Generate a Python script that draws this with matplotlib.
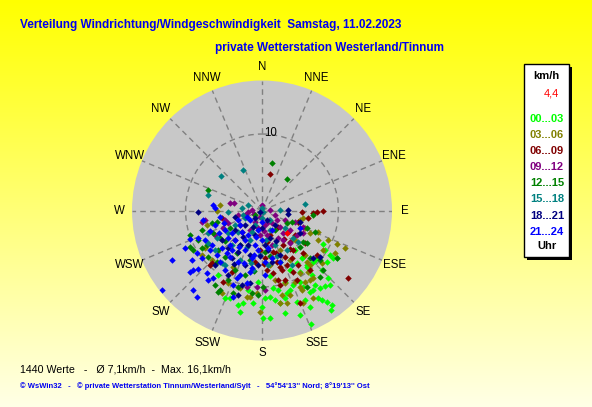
import numpy as np
import matplotlib
matplotlib.use("Agg")
import matplotlib.pyplot as plt
from matplotlib.patches import Rectangle
from matplotlib.colors import LinearSegmentedColormap

plt.rcParams['font.family'] = ['Liberation Sans', 'DejaVu Sans']

# Windvektoren je 3-Stunden-Block als (Ost, Nord) in km/h, aus dem Bild geschaetzt
wind_00_03 = [(1.0, -11.3), (1.4, -10.1), (2.1, -10.4), (3.7, -10.4), (4.1, -9.7), (5.0, -9.3),
              (5.4, -10.0), (6.3, -10.7), (6.9, -9.7), (7.6, -10.1), (8.2, -9.9), (8.9, -9.7),
              (7.8, -11.7), (8.5, -12.0), (9.2, -12.4), (6.3, -12.6), (5.0, -13.7), (3.0, -13.4),
              (4.6, -12.0), (6.4, -14.8), (0.1, -14.1), (1.0, -14.1), (0.0, -12.6), (3.0, -11.4),
              (-5.8, -8.4), (-4.8, -11.4), (-4.2, -11.4), (-3.1, -12.4), (-2.5, -12.1), (-1.2, -12.1),
              (-2.9, -13.3), (0.4, -11.4), (8.0, -4.4), (8.2, -5.2), (8.9, -5.8), (8.5, -6.7),
              (7.3, -6.1), (6.7, -6.7), (5.2, -6.2), (5.9, -7.1), (9.3, -6.2), (9.8, -6.2),
              (8.6, -8.8), (9.0, -13.0), (2.4, -12.1), (3.3, -10.8), (6.7, -10.4), (5.9, -7.4),
              (4.6, -6.9), (5.4, -6.1), (6.9, -6.5), (2.4, -6.7), (3.7, -7.8), (1.0, -8.6),
              (-0.5, -9.3), (5.0, -8.0), (3.0, -9.3), (4.3, -5.2), (6.5, -8.4), (7.8, -7.8),
              (-1.8, -10.4), (1.7, -11.7), (5.6, -11.7), (7.3, -11.4)]
wind_03_06 = [(5.6, -2.3), (6.3, -2.9), (7.3, -3.9), (9.8, -4.4), (10.8, -4.9), (9.5, -5.6),
              (5.6, -5.8), (5.9, -6.7), (6.3, -7.1), (5.0, -1.2), (5.4, -1.0), (7.8, -6.9),
              (8.0, -5.2), (6.0, -8.0), (5.0, -8.2), (5.6, -9.3), (5.0, -10.0), (6.3, -9.1),
              (3.0, -9.5), (4.3, -9.3), (2.4, -12.1), (5.4, -12.1), (-0.3, -13.3), (-2.9, -10.1),
              (-2.0, -11.3), (-0.7, -10.8), (-4.4, -9.5), (-5.5, 0.7), (-7.2, -1.9), (-7.8, -5.8),
              (-3.8, -7.4), (3.3, -12.1), (6.7, -11.4), (5.2, -10.4), (2.6, -11.0), (6.7, -8.8),
              (-1.6, -11.3), (-5.2, -10.8), (-6.5, -6.5), (-7.5, -4.9), (3.7, -6.5), (2.4, -5.2),
              (4.3, -3.9), (1.0, -7.1), (7.3, -2.8), (8.6, -3.9), (3.7, -11.0), (1.7, -9.1),
              (-5.9, 0.0)]
wind_06_09 = [(5.2, -0.2), (6.7, -0.3), (7.2, -0.2), (8.0, -0.1), (6.0, -1.0), (3.4, -2.8),
              (3.7, -4.1), (2.7, -4.5), (4.1, -5.2), (3.0, -6.1), (3.9, -6.2), (7.2, -5.8),
              (5.4, -5.6), (1.4, -5.4), (2.0, -6.7), (2.4, -7.4), (3.3, -7.1), (4.7, -7.1),
              (0.7, -4.1), (1.0, -3.2), (2.1, -2.2), (11.2, -8.8), (5.0, -12.1), (2.4, -9.7),
              (3.0, -9.1), (4.1, -8.0), (1.4, -8.2), (0.7, -7.8), (6.3, -7.8), (1.0, 4.8),
              (4.6, -9.1), (-6.8, -7.1), (-5.1, -9.3), (-3.9, -8.0), (-5.2, -1.0), (-4.8, -1.5),
              (-6.5, -6.9), (2.6, -7.8), (2.1, -9.1), (-0.3, -5.2), (0.4, -6.2), (4.3, -3.2),
              (5.6, -4.2), (-0.9, -6.7), (4.7, -1.5), (1.8, -5.5), (3.6, -5.0), (0.2, -7.0),
              (2.9, -3.7)]
wind_09_12 = [(-4.2, 1.0), (-3.7, 1.0), (-7.8, -1.5), (-7.5, -1.2), (-4.8, -1.2), (-4.4, -1.6),
              (-1.3, 0.1), (-0.3, -0.8), (0.8, -1.5), (0.4, -1.9), (1.3, -1.6), (2.4, -2.2),
              (3.7, -2.5), (4.6, -3.2), (5.4, -2.9), (2.7, -3.9), (0.7, -3.2), (3.7, -4.2),
              (-5.1, -2.3), (2.1, -3.6), (5.4, -2.2), (0.4, -10.4), (-2.0, -10.0), (-0.7, -10.0),
              (-2.2, -0.6), (-0.9, -1.5), (-2.9, -1.9), (1.7, -0.6), (3.0, -1.2), (-1.6, -2.5),
              (-0.3, -3.2), (1.3, -4.5), (-3.5, -3.9), (-6.1, -3.2), (0.0, 0.7), (1.0, 0.1),
              (-3.1, -0.6), (4.3, -1.5), (-0.5, -2.3), (-1.8, -0.2), (-1.0, -0.5), (0.3, -2.7),
              (1.9, -1.3), (-2.6, -2.8), (2.8, -3.0)]
wind_12_15 = [(1.3, 6.2), (3.3, 4.1), (-7.1, 2.7), (6.7, -0.6), (6.9, -2.8), (9.8, -6.2),
              (-9.4, -3.2), (-9.0, -5.2), (-6.1, -9.7), (-5.8, -10.7), (-3.1, -10.0), (-1.3, -10.8),
              (0.1, -10.0), (3.3, -1.6), (7.6, -6.5), (5.0, -4.8), (5.9, -4.2), (-9.4, -4.8),
              (-5.9, -1.5), (-6.5, -1.6), (-6.4, -2.9), (-5.5, -3.6), (-7.2, -4.5), (-7.8, -4.9),
              (-7.1, -6.1), (-5.9, -6.7), (-4.8, -6.1), (-4.2, -2.3), (-5.8, -5.2), (-5.5, -10.4),
              (3.9, -1.5), (5.4, -4.1), (0.4, -5.4), (-7.8, -2.5), (5.9, -2.3), (7.6, -8.7),
              (5.9, -10.0), (8.0, -7.8), (-3.8, -10.8), (-0.5, -11.0), (6.3, -6.2), (-2.9, -4.5),
              (-1.6, -6.5), (-3.5, -7.8), (-2.2, -8.4), (1.7, -2.5), (-0.9, -0.6), (-4.4, -9.1),
              (-8.4, -3.9), (-3.3, -5.6), (-4.9, -4.0), (-1.0, -7.9), (1.0, -6.0)]
wind_15_18 = [(-5.4, 4.5), (-2.5, 5.3), (5.6, 0.8), (-7.1, 2.0), (-2.6, 0.3), (0.0, 0.3),
              (0.1, -0.2), (-7.1, -2.9), (-7.1, -4.2), (-2.2, -1.0), (-3.1, -2.8), (-5.9, -3.6),
              (-5.2, -6.9), (-4.8, -7.1), (-2.5, -0.6), (4.7, -4.1), (3.3, -5.2), (3.9, -7.1),
              (4.1, -3.6), (-0.9, -1.9), (1.0, -1.2), (-1.6, -3.9), (-3.9, -4.5), (1.7, -4.5),
              (-0.3, -5.8), (-2.9, -6.5), (2.4, 0.1), (-4.4, -0.2), (-1.2, -7.8), (0.8, -7.1),
              (-6.1, -5.2), (3.0, -2.3), (-1.8, 0.7), (0.0, -1.0), (-1.3, -2.8), (1.0, -2.5),
              (-3.5, -1.9), (-2.0, -4.8), (0.5, -3.8), (-4.5, -2.9), (2.0, -6.0), (-1.5, -6.9)]
wind_18_21 = [(-8.4, -0.2), (3.4, 0.1), (3.4, -0.5), (5.0, -1.5), (5.0, -2.9), (7.6, -6.1),
              (6.7, -6.2), (0.8, -5.2), (-2.6, -9.7), (-1.6, -9.5), (-3.5, -0.8), (-2.2, -1.9),
              (-0.9, -3.2), (0.0, -2.3), (-2.9, -4.5), (-1.6, -5.8), (-3.9, -6.2), (1.0, -3.6),
              (-0.5, -7.1), (-5.2, -3.9), (-4.4, -8.4), (2.4, -5.8), (-2.2, -7.1), (1.7, -1.9),
              (-3.5, -2.5), (-0.3, -0.2), (-6.1, -7.1), (-3.1, -11.0), (-1.8, -4.5), (-3.1, -5.4),
              (0.4, -4.5), (-0.9, -1.0), (-4.4, -4.9), (1.3, -6.7), (-2.5, -3.5), (-1.2, -2.2),
              (0.6, -1.2), (-3.6, -7.0), (-0.2, -6.0), (1.8, -4.0)]
wind_21_24 = [(-13.1, -10.4), (-11.8, -6.5), (-10.1, -4.9), (-9.2, -6.5), (-9.0, -7.8), (-8.5, -11.3),
              (-9.0, -10.4), (-7.2, -8.2), (-7.1, -9.1), (-9.4, -8.0), (-8.4, -7.6), (-6.4, -8.8),
              (-8.4, -3.6), (-7.7, -1.2), (-6.1, 0.3), (-5.5, -0.8), (-7.5, -3.9), (-8.5, -5.6),
              (-6.5, -4.5), (-5.9, -5.8), (-7.8, -6.2), (-6.8, -5.2), (-9.4, -3.7), (-3.8, -11.3),
              (-5.2, -4.9), (-4.2, -6.1), (-3.3, -8.8), (-2.0, -9.5), (-1.3, -7.5), (-6.4, 0.7),
              (-4.8, -2.5), (-3.5, -3.9), (-2.2, -5.2), (-2.9, -1.9), (-0.9, -4.5), (0.0, -3.9),
              (-1.6, -1.2), (-3.1, -6.7), (-4.8, -7.8), (0.4, -6.7), (-0.5, -2.5), (-4.2, -4.5),
              (-1.8, -3.2), (1.3, -2.5), (5.0, -2.3), (2.4, -6.7), (0.4, -8.4), (-6.1, -1.9),
              (-2.9, -8.4), (-2.2, -3.9), (-1.3, -6.2), (-3.9, -5.2), (-0.5, -5.2), (-2.6, -2.8),
              (0.8, -4.9), (-4.4, -3.6), (-1.6, -8.0), (-3.1, -1.2), (0.0, -1.5), (-5.5, -6.7),
              (-3.8, -9.7), (1.3, -6.2), (-3.0, -4.8), (-4.6, -5.5), (-5.6, -3.0), (-2.4, -6.9),
              (-0.8, -3.5), (-3.9, -2.9), (-1.0, -5.8), (-5.0, -1.6), (-6.8, -2.7), (-2.0, -0.8)]

gruppen = [wind_00_03, wind_03_06, wind_06_09, wind_09_12,
           wind_12_15, wind_15_18, wind_18_21, wind_21_24]
zeitraeume = ["00...03", "03...06", "06...09", "09...12",
              "12...15", "15...18", "18...21", "21...24"]
farben = ["#00ff00", "#808000", "#800000", "#800080",
          "#008000", "#008080", "#000080", "#0000ff"]
richtungen = ["N", "NNE", "NE", "ENE", "E", "ESE", "SE", "SSE",
              "S", "SSW", "SW", "WSW", "W", "WNW", "NW", "NNW"]

aktuell_richtung = 133   # Grad
aktuell_speed = 4.4      # km/h
r_max = 17

W, H = 592, 407


def fpos(x, y):
    # Pixelposition -> Figurenkoordinaten
    return x / W, 1 - y / H


fig = plt.figure(figsize=(W / 100, H / 100), dpi=100)

# gelber Verlauf als Hintergrund
bg = fig.add_axes([0, 0, 1, 1])
gelb = LinearSegmentedColormap.from_list("gelb", ["#ffff00", "#ffffe6"])
bg.imshow(np.linspace(0, 1, 256)[:, None], cmap=gelb, aspect="auto", extent=[0, 1, 0, 1])
bg.set_axis_off()

ax = fig.add_axes([132 / W, (H - 340.5) / H, 260 / W, 260 / H], projection="polar")
ax.set_theta_zero_location("N")
ax.set_theta_direction(-1)
ax.set_ylim(0, r_max)
ax.set_facecolor("#c8c8c8")
ax.spines["polar"].set_visible(False)
ax.set_xticks(np.deg2rad(np.arange(16) * 22.5))
ax.set_xticklabels([])
ax.set_yticks([10])
ax.set_yticklabels([])
ax.grid(True, color="#808080", linestyle=(0, (4, 3)), linewidth=1)

for daten, farbe in zip(gruppen, farben):
    arr = np.array(daten)
    theta = np.arctan2(arr[:, 0], arr[:, 1])
    r = np.hypot(arr[:, 0], arr[:, 1])
    ax.plot(theta, r, "D", ms=3.3, mew=0, color=farbe, zorder=3)

ax.plot(np.deg2rad(aktuell_richtung), aktuell_speed, "D", ms=3.3, mew=0, color="#ff0000", zorder=4)

for i, name in enumerate(richtungen):
    ax.text(np.deg2rad(i * 22.5), r_max * 1.1, name, ha="center", va="center",
            fontsize=8.3, color="black", clip_on=False)
ax.text(np.deg2rad(6.6), 10.2, "10", ha="center", va="center", fontsize=8.3)

# Titel
fig.text(*fpos(20, 25), "Verteilung Windrichtung/Windgeschwindigkeit  Samstag, 11.02.2023",
         color="#0000f0", fontsize=8.45, fontweight="bold", va="center")
fig.text(*fpos(215, 48), "private Wetterstation Westerland/Tinnum",
         color="#0000f0", fontsize=8.5, fontweight="bold", va="center")

# Legende rechts
fig.add_artist(Rectangle(fpos(527, 260), 45 / W, 193 / H, transform=fig.transFigure,
                         facecolor="black", edgecolor="none"))
fig.add_artist(Rectangle(fpos(524, 257), 45 / W, 193 / H, transform=fig.transFigure,
                         facecolor="white", edgecolor="black", linewidth=1))
fig.text(*fpos(546.5, 76), "km/h", ha="center", va="center", fontsize=8, fontweight="bold")
fig.text(*fpos(551.5, 93), str(aktuell_speed).replace(".", ","), ha="center", va="center",
         fontsize=8, color="#ff0000")
for i, (lab, farbe) in enumerate(zip(zeitraeume, farben)):
    fig.text(*fpos(547, 119 + i * 16.1), lab, ha="center", va="center",
             fontsize=8, fontweight="bold", color=farbe)
fig.text(*fpos(547, 246), "Uhr", ha="center", va="center", fontsize=8, fontweight="bold")

# Fusszeilen
fig.text(*fpos(20, 369), "1440 Werte   -   Ø 7,1km/h  -  Max. 16,1km/h",
         fontsize=7.7, va="center")
fig.text(*fpos(20, 386),
         "© WsWin32   -   © private Wetterstation Tinnum/Westerland/Sylt   -   54°54'13'' Nord; 8°19'13'' Ost",
         fontsize=5.5, fontweight="bold", color="#0000f0", va="center")

fig.savefig("out.png", dpi=100)
